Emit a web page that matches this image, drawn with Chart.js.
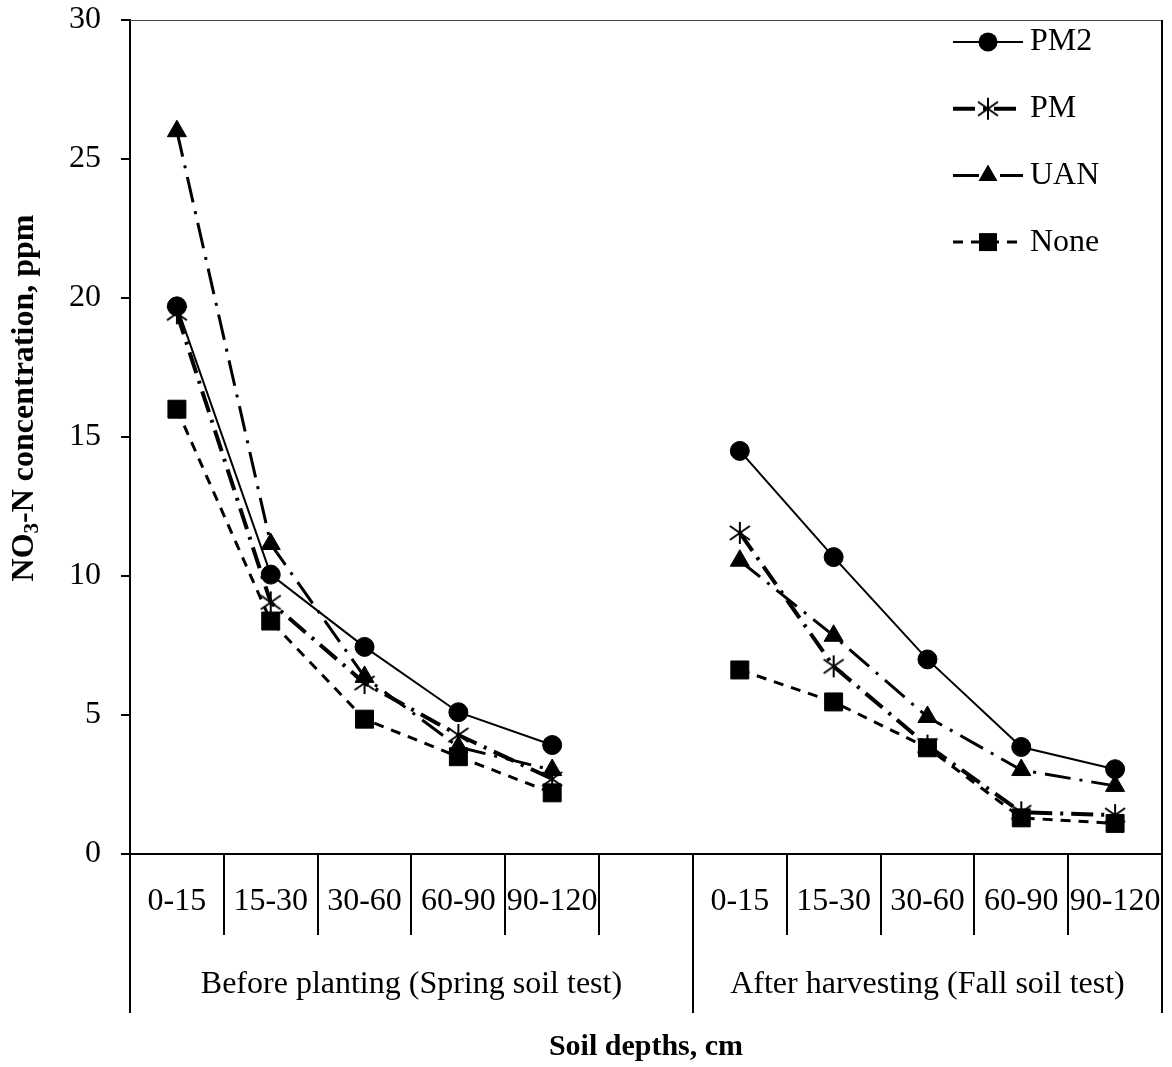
<!DOCTYPE html>
<html>
<head>
<meta charset="utf-8">
<title>Soil NO3-N by depth</title>
<script src="https://cdn.jsdelivr.net/npm/chart.js@4/dist/chart.umd.min.js"></script>
<style>
  html, body { margin: 0; padding: 0; background: #fff; }
  #wrap { width: 1172px; height: 1067px; position: relative; }
</style>
</head>
<body>
<div id="wrap"><canvas id="nitrate"></canvas></div>
<script>
/* ---- data: NO3-N (ppm) by soil depth, spring vs fall ---- */
const depths = ['0-15', '15-30', '30-60', '60-90', '90-120'];
const seasons = ['Before planting (Spring soil test)', 'After harvesting (Fall soil test)'];
const yTicks = [0, 5, 10, 15, 20, 25, 30];

const pm2Spring  = [19.7, 10.05, 7.45, 5.1, 3.92];
const pm2Fall    = [14.5, 10.68, 7.0, 3.85, 3.05];
const pmSpring   = [19.45, 9.05, 6.15, 4.28, 2.7];
const pmFall     = [11.55, 6.75, 3.9, 1.5, 1.4];
const uanSpring  = [26.0, 11.15, 6.37, 3.85, 3.02];
const uanFall    = [10.55, 7.85, 4.93, 3.02, 2.45];
const noneSpring = [16.0, 8.38, 4.85, 3.5, 2.2];
const noneFall   = [6.62, 5.47, 3.82, 1.3, 1.1];

const FONT = "'Liberation Serif', 'Times New Roman', serif";

// spring block + one empty slot + fall block
const categories = [...depths, '', ...depths];
const joined = (a, b) => [...a, null, ...b];

// six-armed asterisk marker for the PM series
function asteriskMarker() {
  const c = document.createElement('canvas');
  c.width = 24; c.height = 24;
  const g = c.getContext('2d');
  g.strokeStyle = '#000'; g.lineWidth = 2;
  g.beginPath();
  g.moveTo(12, 1); g.lineTo(12, 23);
  g.moveTo(2, 5); g.lineTo(22, 19);
  g.moveTo(22, 5); g.lineTo(2, 19);
  g.stroke();
  return c;
}
const asterisk = asteriskMarker();

const series = [
  { label: 'PM2',  data: joined(pm2Spring, pm2Fall),   style: 'circle',   r: 9.5, width: 2, dash: [] },
  { label: 'PM',   data: joined(pmSpring, pmFall),     style: asterisk,   r: 12,  width: 4, dash: [22, 8, 3, 8] },
  { label: 'UAN',  data: joined(uanSpring, uanFall),   style: 'triangle', r: 11,  width: 3, dash: [26, 9, 3, 9] },
  { label: 'None', data: joined(noneSpring, noneFall), style: 'rect',     r: 12.7, width: 3, dash: [10, 8] }
];

/* ---- custom drawing: y ticks, y title, frame, two-level x axis, legend ---- */
const decorations = {
  id: 'decorations',
  afterDraw(chart) {
    const ctx = chart.ctx;
    const a = chart.chartArea;
    const x = chart.scales.x, y = chart.scales.y;
    const step = x.getPixelForValue(1) - x.getPixelForValue(0);
    ctx.save();
    ctx.fillStyle = '#000';
    ctx.strokeStyle = '#000';

    // short outward tick marks on the value axis
    ctx.lineWidth = 2;
    ctx.beginPath();
    yTicks.forEach(v => {
      const py = Math.round(y.getPixelForValue(v));
      ctx.moveTo(a.left - 9, py); ctx.lineTo(a.left, py);
    });
    ctx.stroke();

    // frame: thin top, heavier right
    ctx.lineWidth = 1;
    ctx.strokeStyle = '#444';
    ctx.beginPath(); ctx.moveTo(a.left, a.top + 0.5); ctx.lineTo(a.right, a.top + 0.5); ctx.stroke();
    ctx.strokeStyle = '#000';
    ctx.lineWidth = 2;
    ctx.beginPath(); ctx.moveTo(a.right, a.top); ctx.lineTo(a.right, a.bottom); ctx.stroke();

    // category dividers: short between depths, long at season edges
    const shortBottom = a.bottom + 81, longBottom = a.bottom + 159;
    ctx.beginPath();
    for (let i = 0; i <= categories.length; i++) {
      const px = Math.round(x.getPixelForValue(0) - step / 2 + i * step);
      const long = i === 0 || i === depths.length + 1 || i === categories.length;
      ctx.moveTo(px, a.bottom);
      ctx.lineTo(px, long ? longBottom : shortBottom);
    }
    ctx.stroke();

    // depth labels
    ctx.font = '32px ' + FONT;
    ctx.textAlign = 'center';
    ctx.textBaseline = 'middle';
    categories.forEach((c, i) => {
      if (c) ctx.fillText(c, x.getPixelForValue(i), a.bottom + 48);
    });

    // season labels
    const edge = i => x.getPixelForValue(0) - step / 2 + i * step;
    ctx.fillText(seasons[0], (edge(0) + edge(depths.length + 1)) / 2, a.bottom + 131);
    ctx.fillText(seasons[1], (edge(depths.length + 1) + edge(categories.length)) / 2, a.bottom + 131);

    // x title
    ctx.font = 'bold 30px ' + FONT;
    ctx.fillText('Soil depths, cm', (a.left + a.right) / 2, a.bottom + 193);

    // y title with subscript 3
    ctx.translate(25, 398);
    ctx.rotate(-Math.PI / 2);
    const main = 'bold 32px ' + FONT, sub = 'bold 21px ' + FONT;
    const parts = [['NO', main, 0], ['3', sub, 8], ['-N concentration, ppm', main, 0]];
    let total = 0;
    parts.forEach(p => { ctx.font = p[1]; total += ctx.measureText(p[0]).width; });
    let cx = -total / 2;
    ctx.textAlign = 'left';
    parts.forEach(p => {
      ctx.font = p[1];
      ctx.fillText(p[0], cx, p[2]);
      cx += ctx.measureText(p[0]).width;
    });
    ctx.restore();

    // legend
    ctx.save();
    ctx.fillStyle = '#000';
    ctx.strokeStyle = '#000';
    ctx.font = '32px ' + FONT;
    ctx.textBaseline = 'middle';
    series.forEach((s, i) => {
      const ly = 42 + i * 66.7;
      ctx.lineWidth = s.width;
      ctx.setLineDash(s.dash);
      ctx.beginPath(); ctx.moveTo(953, ly); ctx.lineTo(1023, ly); ctx.stroke();
      ctx.setLineDash([]);
      drawMarker(ctx, s, 988, ly);
      ctx.fillText(s.label, 1030, ly);
    });
    ctx.restore();
  }
};

function drawMarker(ctx, s, px, py) {
  if (s.style === 'circle') {
    ctx.beginPath(); ctx.arc(px, py, s.r, 0, Math.PI * 2); ctx.fill();
  } else if (s.style === 'triangle') {
    ctx.beginPath();
    ctx.moveTo(px, py - s.r);
    ctx.lineTo(px + s.r * 0.866, py + s.r * 0.5);
    ctx.lineTo(px - s.r * 0.866, py + s.r * 0.5);
    ctx.closePath(); ctx.fill();
  } else if (s.style === 'rect') {
    const h = s.r * Math.SQRT1_2;
    ctx.fillRect(px - h, py - h, 2 * h, 2 * h);
  } else {
    ctx.drawImage(s.style, px - s.style.width / 2, py - s.style.height / 2);
  }
}

new Chart(document.getElementById('nitrate'), {
  type: 'line',
  data: {
    labels: categories,
    datasets: series.map(s => ({
      label: s.label,
      data: s.data,
      borderColor: '#000',
      backgroundColor: '#000',
      borderWidth: s.width,
      borderDash: s.dash,
      tension: 0,
      spanGaps: false,
      pointStyle: s.style,
      pointRadius: s.r,
      pointHoverRadius: s.r,
      pointBackgroundColor: '#000',
      pointBorderColor: '#000',
      pointBorderWidth: 1,
      clip: false
    }))
  },
  options: {
    responsive: true,
    maintainAspectRatio: false,
    animation: false,
    layout: { autoPadding: false, padding: { top: 20, right: 10, left: 0, bottom: 0 } },
    plugins: { legend: { display: false }, tooltip: { enabled: false } },
    scales: {
      x: {
        type: 'category',
        offset: true,
        grid: { display: false },
        border: { display: true, color: '#000', width: 2 },
        ticks: { display: false },
        afterFit: sc => { sc.height = 213; }
      },
      y: {
        min: 0, max: 30,
        afterBuildTicks: sc => { sc.ticks = yTicks.map(v => ({ value: v })); },
        grid: { drawOnChartArea: false, drawTicks: true, tickLength: 29, tickColor: 'rgba(0,0,0,0)' },
        border: { display: true, color: '#000', width: 2 },
        ticks: { color: '#000', padding: 0, font: { family: FONT, size: 32 } },
        afterFit: sc => { sc.width = 130; }
      }
    }
  },
  plugins: [decorations]
});
</script>
</body>
</html>
